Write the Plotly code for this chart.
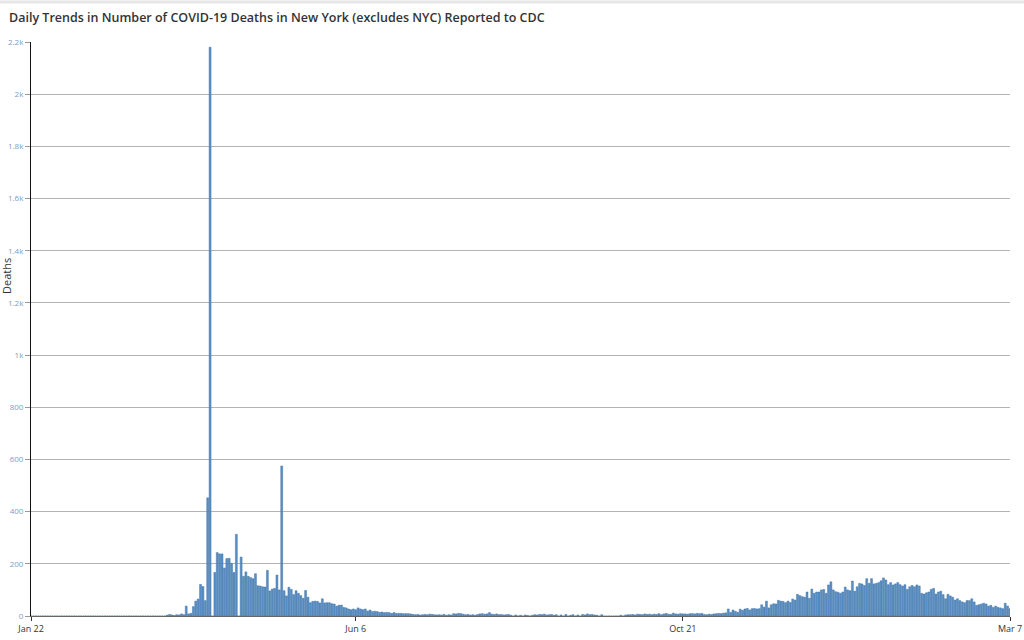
import pandas as pd
import plotly.graph_objects as go

title_text = "Daily Trends in Number of COVID-19 Deaths in New York (excludes NYC) Reported to CDC"
start_date = "2020-01-22"
x_tick_labels = ["Jan 22", "Jun 6", "Oct 21", "Mar 7"]
x_tick_dates = ["2020-01-22", "2020-06-06", "2020-10-21", "2021-03-07"]
y_tick_vals = [0, 200, 400, 600, 800, 1000, 1200, 1400, 1600, 1800, 2000, 2200]

# daily deaths, Jan 22 2020 .. Mar 7 2021
deaths_jan_mar = [0, 0, 0, 0, 0, 0, 0, 0, 0, 0, 0, 0, 0, 0, 0, 0, 0, 0, 0, 0,
                  0, 0, 0, 0, 0, 0, 0, 0, 0, 0, 0, 0, 0, 0, 0, 0, 0, 0, 0, 0,
                  0, 0, 0, 0, 0, 0, 0, 0, 0, 0, 0, 0, 0, 0, 0, 0, 0]
deaths_mar_apr = [3, 6, 4, 2, 5, 4, 8, 5, 38, 8, 10, 36, 57, 65, 121, 113, 59, 453, 2180, 0]
deaths_apr_may = [167, 243, 238, 238, 184, 220, 221, 202, 167, 313, 0, 226, 152, 169, 152,
                  147, 143, 162, 116, 115, 112, 111, 175, 96, 103, 106, 157, 100, 575]
deaths_may_jun = [97, 77, 110, 102, 82, 97, 87, 78, 68, 98, 72, 51, 56, 57, 56, 50, 66, 50,
                  51, 51, 47, 46, 38, 41, 42]
deaths_jun_jul = [33, 31, 27, 24, 27, 24, 31, 27, 24, 27, 19, 23, 17, 18, 17, 14, 15, 13, 14,
                  13, 10, 13, 10, 10, 10, 9, 9, 9, 8]
deaths_summer = [6, 5, 6, 4, 5, 6, 5, 7, 6, 5, 4,
                 5, 4, 6, 3, 5, 4, 9, 8, 10, 9, 7,
                 5, 6, 4, 5, 3, 6, 8, 9, 7,
                 8, 13, 7, 6, 8, 5, 6, 4, 5, 6,
                 3, 0, 4, 0, 3, 0, 4, 2, 0, 3,
                 5, 4, 6, 5, 7, 4, 5, 6, 3, 5,
                 0, 4, 0, 6, 0, 3, 5, 0, 4, 0,
                 6, 4, 8, 5, 6, 4, 3, 0, 5, 0,
                 0, 0, 0, 0, 0, 0, 3, 0, 4, 5,
                 5, 6, 4, 7, 6, 5, 8, 6, 7, 5,
                 7, 6, 9, 5, 8, 10, 7, 6, 11, 8, 7, 9, 8]
deaths_oct_nov = [8, 7, 9,
                  9, 8, 10, 9, 10, 6, 5, 7, 6, 8, 9, 10, 9, 11, 12]
deaths_nov_dec = [27, 14, 23, 18, 14, 26, 22, 27, 29, 23, 28, 29, 27, 28, 43, 34, 57, 31, 43, 47,
                  46, 60, 57, 56, 51, 57, 52, 65, 61, 83, 78, 74, 72, 92, 68, 103, 87, 92, 92, 100,
                  102, 87, 119, 131, 100, 93, 91, 87, 92, 111, 100]
deaths_dec_mar = [97, 134, 95, 112, 125, 123, 117, 143, 125, 143, 123, 125, 128, 135, 146, 138,
                  120, 128, 119, 123, 128, 120, 115, 120, 102, 112, 117, 112, 119, 115, 87, 84,
                  89, 92, 102, 106, 84, 92, 95, 82, 66, 83, 77, 72, 61, 66, 59, 54, 51, 59, 59,
                  66, 54, 41, 43, 46, 49, 46, 38, 41, 33, 38, 33, 31, 28, 49, 38, 28]

deaths = (deaths_jan_mar + deaths_mar_apr + deaths_apr_may + deaths_may_jun + deaths_jun_jul
          + deaths_summer + deaths_oct_nov + deaths_nov_dec + deaths_dec_mar)
dates = pd.date_range(start_date, periods=len(deaths), freq="D")

W, H = 1024, 640
ML, MR, MT, MB = 31, 14, 42, 24
PW, PH = W - ML - MR, H - MT - MB

fig = go.Figure()
fig.add_trace(go.Bar(
    x=dates, y=deaths,
    marker=dict(color="#5b8fc4", line=dict(color="#3f74a8", width=0.5)),
    showlegend=False,
))

fig.update_layout(
    width=W, height=H,
    margin=dict(l=ML, r=MR, t=MT, b=MB, autoexpand=False),
    paper_bgcolor="white", plot_bgcolor="white",
    bargap=0.2,
    font=dict(family="Open Sans"),
)

fig.update_xaxes(
    type="date",
    range=[dates[0], dates[-1]],
    tickvals=x_tick_dates, ticktext=x_tick_labels,
    ticks="outside", ticklen=4, tickcolor="#333333",
    tickfont=dict(size=9, color="#333333", family="Open Sans"),
    showgrid=False, showline=True, linecolor="#666666", linewidth=1,
    zeroline=False, automargin=False,
)
fig.update_yaxes(
    range=[0, 2200],
    tickvals=y_tick_vals, tickformat="~s",
    ticks="outside", ticklen=5, tickcolor="#999999",
    tickfont=dict(size=8, color="#7f9cc0", family="Open Sans"),
    showgrid=True, gridcolor="#b4b4b4", gridwidth=1,
    showline=True, linecolor="#111111", linewidth=1,
    zeroline=False, automargin=False,
)

# title
fig.add_annotation(
    text=title_text, xref="paper", yref="paper",
    x=(7 - ML) / PW, y=1 + (MT - 17) / PH, xanchor="left", yanchor="middle",
    showarrow=False,
    font=dict(family="Open Sans", size=12.5, color="#333333", weight=600),
)
# y axis title
fig.add_annotation(
    text="Deaths", xref="paper", yref="paper",
    x=(6 - ML) / PW, y=(H - MB - 276) / PH, xanchor="center", yanchor="middle",
    textangle=-90, showarrow=False,
    font=dict(family="Open Sans", size=11, color="#333333"),
)
# light band at the very top
fig.add_shape(type="line", xref="paper", yref="paper", x0=-ML / PW, x1=(W - ML) / PW,
              y0=1 + (MT - 2) / PH, y1=1 + (MT - 2) / PH, line=dict(color="#e6e6e6", width=3))

fig.write_html("out.html", config={"displayModeBar": False},
               post_script="document.body.style.margin='0';")
